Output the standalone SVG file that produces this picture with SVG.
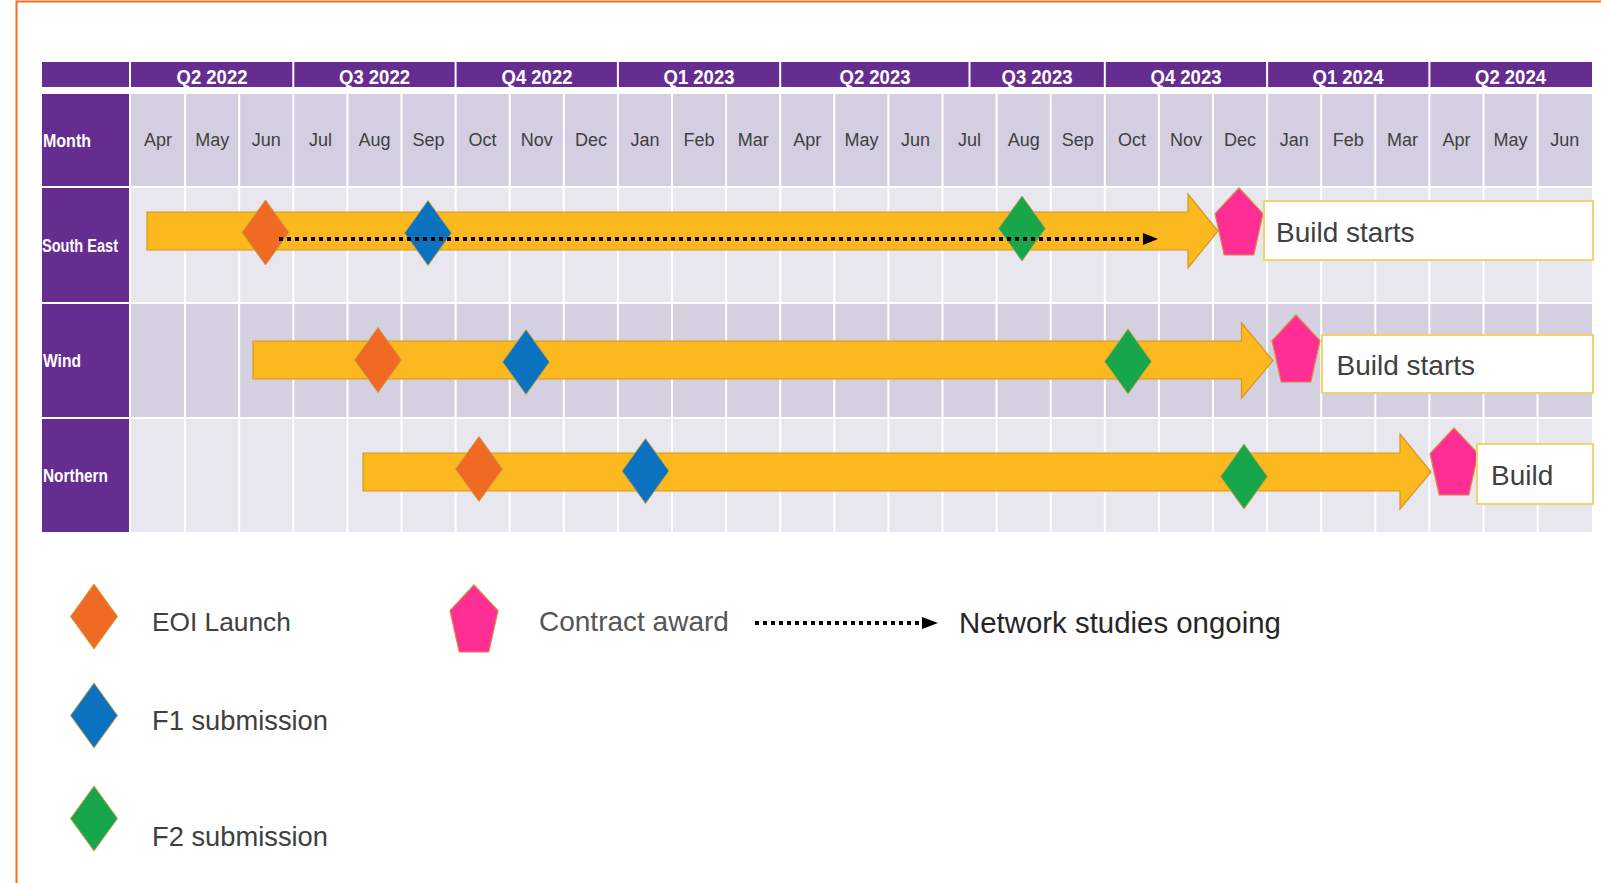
<svg xmlns="http://www.w3.org/2000/svg" xmlns:xlink="http://www.w3.org/1999/xlink" width="1601" height="883" viewBox="0 0 1601 883">
<style>
.hdr{fill:#662d91}
.mrow{fill:#d3cfe0}
.lrow{fill:#e8e6ee}
.drow{fill:#d4d0e0}
.vl{stroke:#ffffff;stroke-width:2}
.q{font-family:"Liberation Sans",Arial,sans-serif;font-weight:bold;font-size:21px;fill:#ffffff;text-anchor:middle}
.m{font-family:"Liberation Sans",Arial,sans-serif;font-size:18px;fill:#404040;text-anchor:middle}
.r{font-family:"Liberation Sans",Arial,sans-serif;font-weight:bold;font-size:19px;fill:#ffffff}
.bar{fill:#fbb91f;stroke:#d49a1a;stroke-width:1.2}
.eoi{fill:#f06a24;stroke:#c9a040;stroke-width:1}
.f1{fill:#0b72c0;stroke:#c9a040;stroke-width:1}
.f2{fill:#17a74a;stroke:#c9a040;stroke-width:1}
.ca{fill:#ff2e95;stroke:#d88a40;stroke-width:1.2}
.box{fill:#ffffff;stroke:#f4d36c;stroke-width:2}
.bt{font-family:"Liberation Sans",Arial,sans-serif;font-size:28px;fill:#404040}
.lg{font-family:"Liberation Sans",Arial,sans-serif;fill:#404040}
.dot{stroke:#000000;stroke-width:4;stroke-dasharray:4 4;fill:none}
</style>
<defs>
<path id="dia" d="M0,-32.5 L23.5,0 L0,32.5 L-23.5,0 Z"/>
<path id="pent" d="M0,0 L24,25.6 L14.8,67 L-14.8,67 L-24,25.6 Z"/>
</defs>
<rect x="0" y="0" width="1601" height="883" fill="#ffffff"/>
<path d="M16.5,883 V1.5 H1601" fill="none" stroke="#f37021" stroke-width="2"/>

<g id="table">
  <rect class="hdr" x="42" y="62" width="87" height="25"/>
  <rect class="hdr" x="131" y="62" width="1461" height="25"/>
  <g class="vl">
    <line x1="293.3" y1="62" x2="293.3" y2="87"/>
    <line x1="455.6" y1="62" x2="455.6" y2="87"/>
    <line x1="617.9" y1="62" x2="617.9" y2="87"/>
    <line x1="780.2" y1="62" x2="780.2" y2="87"/>
    <line x1="969.5" y1="62" x2="969.5" y2="87"/>
    <line x1="1104.8" y1="62" x2="1104.8" y2="87"/>
    <line x1="1267.1" y1="62" x2="1267.1" y2="87"/>
    <line x1="1429.4" y1="62" x2="1429.4" y2="87"/>
  </g>
  <g>
    <text class="q" x="212" y="84" textLength="71" lengthAdjust="spacingAndGlyphs">Q2 2022</text>
    <text class="q" x="374.5" y="84" textLength="71" lengthAdjust="spacingAndGlyphs">Q3 2022</text>
    <text class="q" x="537" y="84" textLength="71" lengthAdjust="spacingAndGlyphs">Q4 2022</text>
    <text class="q" x="699" y="84" textLength="71" lengthAdjust="spacingAndGlyphs">Q1 2023</text>
    <text class="q" x="875" y="84" textLength="71" lengthAdjust="spacingAndGlyphs">Q2 2023</text>
    <text class="q" x="1037" y="84" textLength="71" lengthAdjust="spacingAndGlyphs">Q3 2023</text>
    <text class="q" x="1186" y="84" textLength="71" lengthAdjust="spacingAndGlyphs">Q4 2023</text>
    <text class="q" x="1348" y="84" textLength="71" lengthAdjust="spacingAndGlyphs">Q1 2024</text>
    <text class="q" x="1510.5" y="84" textLength="71" lengthAdjust="spacingAndGlyphs">Q2 2024</text>
  </g>
  <rect class="hdr" x="42" y="94" width="87" height="92"/>
  <rect class="hdr" x="42" y="188" width="87" height="114"/>
  <rect class="hdr" x="42" y="304" width="87" height="113"/>
  <rect class="hdr" x="42" y="419" width="87" height="113"/>
  <rect class="mrow" x="131" y="94" width="1461" height="92"/>
  <rect class="lrow" x="131" y="188" width="1461" height="114"/>
  <rect class="drow" x="131" y="304" width="1461" height="113"/>
  <rect class="lrow" x="131" y="419" width="1461" height="113"/>
  <g class="vl">
    <line x1="185.1" y1="94" x2="185.1" y2="532"/>
    <line x1="239.2" y1="94" x2="239.2" y2="532"/>
    <line x1="293.3" y1="94" x2="293.3" y2="532"/>
    <line x1="347.4" y1="94" x2="347.4" y2="532"/>
    <line x1="401.5" y1="94" x2="401.5" y2="532"/>
    <line x1="455.6" y1="94" x2="455.6" y2="532"/>
    <line x1="509.7" y1="94" x2="509.7" y2="532"/>
    <line x1="563.8" y1="94" x2="563.8" y2="532"/>
    <line x1="617.9" y1="94" x2="617.9" y2="532"/>
    <line x1="672" y1="94" x2="672" y2="532"/>
    <line x1="726.1" y1="94" x2="726.1" y2="532"/>
    <line x1="780.2" y1="94" x2="780.2" y2="532"/>
    <line x1="834.3" y1="94" x2="834.3" y2="532"/>
    <line x1="888.4" y1="94" x2="888.4" y2="532"/>
    <line x1="942.5" y1="94" x2="942.5" y2="532"/>
    <line x1="996.6" y1="94" x2="996.6" y2="532"/>
    <line x1="1050.7" y1="94" x2="1050.7" y2="532"/>
    <line x1="1104.8" y1="94" x2="1104.8" y2="532"/>
    <line x1="1158.9" y1="94" x2="1158.9" y2="532"/>
    <line x1="1213" y1="94" x2="1213" y2="532"/>
    <line x1="1267.1" y1="94" x2="1267.1" y2="532"/>
    <line x1="1321.2" y1="94" x2="1321.2" y2="532"/>
    <line x1="1375.3" y1="94" x2="1375.3" y2="532"/>
    <line x1="1429.4" y1="94" x2="1429.4" y2="532"/>
    <line x1="1483.5" y1="94" x2="1483.5" y2="532"/>
    <line x1="1537.6" y1="94" x2="1537.6" y2="532"/>
  </g>
  <g>
    <text class="m" x="158" y="146">Apr</text>
    <text class="m" x="212.2" y="146">May</text>
    <text class="m" x="266.3" y="146">Jun</text>
    <text class="m" x="320.4" y="146">Jul</text>
    <text class="m" x="374.5" y="146">Aug</text>
    <text class="m" x="428.6" y="146">Sep</text>
    <text class="m" x="482.6" y="146">Oct</text>
    <text class="m" x="536.8" y="146">Nov</text>
    <text class="m" x="590.9" y="146">Dec</text>
    <text class="m" x="645" y="146">Jan</text>
    <text class="m" x="699.1" y="146">Feb</text>
    <text class="m" x="753.2" y="146">Mar</text>
    <text class="m" x="807.3" y="146">Apr</text>
    <text class="m" x="861.4" y="146">May</text>
    <text class="m" x="915.5" y="146">Jun</text>
    <text class="m" x="969.6" y="146">Jul</text>
    <text class="m" x="1023.7" y="146">Aug</text>
    <text class="m" x="1077.8" y="146">Sep</text>
    <text class="m" x="1131.9" y="146">Oct</text>
    <text class="m" x="1186" y="146">Nov</text>
    <text class="m" x="1240.1" y="146">Dec</text>
    <text class="m" x="1294.2" y="146">Jan</text>
    <text class="m" x="1348.3" y="146">Feb</text>
    <text class="m" x="1402.4" y="146">Mar</text>
    <text class="m" x="1456.5" y="146">Apr</text>
    <text class="m" x="1510.6" y="146">May</text>
    <text class="m" x="1564.7" y="146">Jun</text>
  </g>
  <text class="r" x="43" y="147" textLength="48" lengthAdjust="spacingAndGlyphs">Month</text>
  <text class="r" x="42" y="252" textLength="76" lengthAdjust="spacingAndGlyphs">South East</text>
  <text class="r" x="43" y="367" textLength="38" lengthAdjust="spacingAndGlyphs">Wind</text>
  <text class="r" x="43" y="482" textLength="65" lengthAdjust="spacingAndGlyphs">Northern</text>
</g>

<g id="south-east">
  <path id="se-bar" class="bar" d="M147,212 H1188 V194 L1218,231 L1188,268 V250 H147 Z"/>
  <use id="se-eoi" href="#dia" xlink:href="#dia" class="eoi" x="265.5" y="232.5"/>
  <use id="se-f1" href="#dia" xlink:href="#dia" class="f1" x="428" y="233"/>
  <use id="se-f2" href="#dia" xlink:href="#dia" class="f2" x="1022" y="228.5"/>
  <use id="se-ca" href="#pent" xlink:href="#pent" class="ca" x="1239" y="188"/>
  <g id="se-build">
    <rect class="box" x="1264" y="201" width="329" height="59"/>
    <text class="bt" x="1276" y="242">Build starts</text>
  </g>
</g>

<g id="wind">
  <path id="wind-bar" class="bar" d="M253,341 H1241.5 V323 L1273,360.5 L1241.5,398 V379 H253 Z"/>
  <use id="wind-eoi" href="#dia" xlink:href="#dia" class="eoi" x="378" y="360"/>
  <use id="wind-f1" href="#dia" xlink:href="#dia" class="f1" x="526" y="362"/>
  <use id="wind-f2" href="#dia" xlink:href="#dia" class="f2" x="1128" y="361.5"/>
  <use id="wind-ca" href="#pent" xlink:href="#pent" class="ca" x="1296" y="315"/>
  <g id="wind-build">
    <rect class="box" x="1322" y="335" width="271" height="58"/>
    <text class="bt" x="1336.5" y="375">Build starts</text>
  </g>
</g>

<g id="northern">
  <path id="north-bar" class="bar" d="M363,453 H1400 V434 L1431,472 L1400,509 V491 H363 Z"/>
  <use id="north-eoi" href="#dia" xlink:href="#dia" class="eoi" x="479" y="469"/>
  <use id="north-f1" href="#dia" xlink:href="#dia" class="f1" x="645.5" y="471"/>
  <use id="north-f2" href="#dia" xlink:href="#dia" class="f2" x="1244" y="476.5"/>
  <use id="north-ca" href="#pent" xlink:href="#pent" class="ca" x="1454" y="428"/>
  <g id="north-build">
    <rect class="box" x="1477" y="444" width="116" height="60"/>
    <text class="bt" x="1491" y="485">Build</text>
  </g>
</g>

<g id="connectors">
  <line class="dot" x1="279" y1="239" x2="1143" y2="239"/>
  <polygon points="1143,233 1158,239 1143,245" fill="#000000"/>
</g>

<g id="legend">
  <g id="leg-eoi">
    <use href="#dia" xlink:href="#dia" class="eoi" x="94" y="616.5"/>
    <text class="lg" x="152" y="631" font-size="26.3">EOI Launch</text>
  </g>
  <g id="leg-f1">
    <use href="#dia" xlink:href="#dia" class="f1" x="94" y="715.5"/>
    <text class="lg" x="152" y="730" font-size="27.3">F1 submission</text>
  </g>
  <g id="leg-f2">
    <use href="#dia" xlink:href="#dia" class="f2" x="94" y="818.5"/>
    <text class="lg" x="152" y="846" font-size="27.3">F2 submission</text>
  </g>
  <g id="leg-ca">
    <use href="#pent" xlink:href="#pent" class="ca" x="474" y="585"/>
    <text class="lg" x="539" y="631" font-size="28" style="fill:#555555">Contract award</text>
  </g>
  <g id="leg-net">
    <line class="dot" x1="755" y1="623" x2="922" y2="623"/>
    <polygon points="922,617 938,623 922,629" fill="#000000"/>
    <text class="lg" x="959" y="633" font-size="29.4" style="fill:#262626">Network studies ongoing</text>
  </g>
</g>
</svg>
